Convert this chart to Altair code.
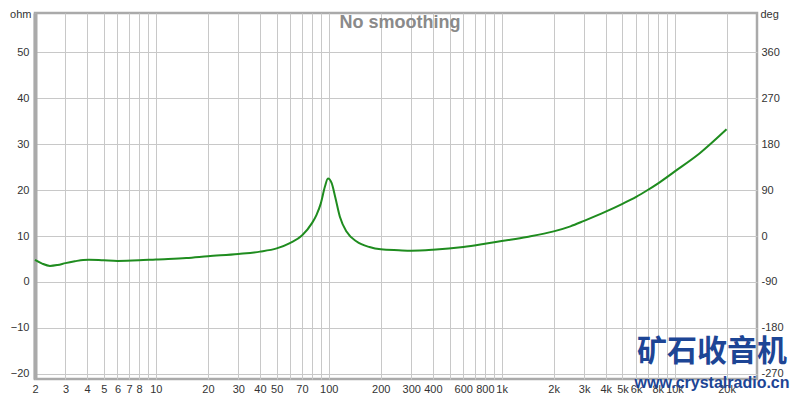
import altair as alt
import pandas as pd

freq = [2, 2.2, 2.44, 2.7, 3, 3.4, 3.8, 4.1, 5, 6, 8, 10, 15, 20, 30, 40, 50,
        60, 70, 80, 85, 90, 95, 99, 104, 109, 116, 127, 145, 172, 200, 254, 300,
        400, 600, 800, 1000, 1400, 2000, 2500, 3000, 4000, 5000, 6000, 7000,
        8000, 10000, 14000, 20000]
ohm = [4.8, 4.0, 3.5, 3.7, 4.1, 4.5, 4.8, 4.85, 4.7, 4.57, 4.7, 4.9, 5.2, 5.6,
       6.1, 6.6, 7.3, 8.5, 10.1, 12.8, 14.6, 17.1, 20.7, 22.5, 21.5, 18.5, 14.2,
       10.9, 8.8, 7.6, 7.1, 6.9, 6.8, 7.0, 7.6, 8.3, 8.9, 9.8, 11.0, 12.1, 13.3,
       15.3, 17.0, 18.5, 20.0, 21.4, 24.0, 28.0, 33.2]

grid_x = [2, 3, 4, 5, 6, 7, 8, 9, 10, 20, 30, 40, 50, 60, 70, 80, 90, 100,
          200, 300, 400, 500, 600, 700, 800, 900, 1000, 2000, 3000, 4000, 5000,
          6000, 7000, 8000, 9000, 10000, 20000]
labelled_x = [2, 3, 4, 5, 6, 7, 8, 10, 20, 30, 40, 50, 70, 100, 200, 300, 400,
              600, 800, 1000, 2000, 3000, 4000, 5000, 6000, 8000, 10000, 20000]
ohm_ticks = [-20, -10, 0, 10, 20, 30, 40, 50]

df = pd.DataFrame({"freq": freq, "ohm": ohm})

W, H = 722, 366
xscale = alt.Scale(type="log", domain=[2, 30000], nice=False)
yscale = alt.Scale(domain=[-21.1, 58.5], nice=False, zero=False)

lab_cond = " || ".join(f"datum.value == {v}" for v in labelled_x)
x_label_expr = (f"({lab_cond}) ? (datum.value >= 1000 ? (datum.value/1000) + 'k' : datum.value + '') : ''")

x_axis = alt.Axis(values=grid_x, labelExpr=x_label_expr, grid=True, gridColor="#c8c8c8",
                  gridWidth=1, ticks=False, domain=False, labelFontSize=11,
                  labelColor="#333333", labelFont="Liberation Sans", labelPadding=4,
                  title=None, labelFlush=False, labelOverlap=False)

left_axis = alt.Axis(values=ohm_ticks, grid=True, gridColor="#c8c8c8", gridWidth=1,
                     ticks=False, domain=True, domainColor="#aaaaaa", domainWidth=4,
                     labelFontSize=11, labelColor="#333333", labelFont="Liberation Sans",
                     labelPadding=6, title="ohm", titleAngle=0, titleFontWeight="normal",
                     titleFont="Liberation Sans", titleFontSize=11, titleColor="#333333",
                     titleX=-4, titleY=-5, titleAlign="right", titleBaseline="top")

right_axis = alt.Axis(values=ohm_ticks, orient="right", grid=False, ticks=False,
                      domain=False, labelFontSize=11, labelColor="#333333",
                      labelFont="Liberation Sans", labelPadding=4,
                      labelExpr="(datum.value - 10) * 9 + ''",
                      title="deg", titleAngle=0, titleFontWeight="normal",
                      titleFont="Liberation Sans", titleFontSize=11, titleColor="#333333",
                      titleX=3, titleY=-5, titleAlign="left", titleBaseline="top")

line = alt.Chart(df).mark_line(color="#1f8c1f", strokeWidth=2, interpolate="monotone").encode(
    x=alt.X("freq:Q", scale=xscale, axis=x_axis),
    y=alt.Y("ohm:Q", scale=yscale, axis=left_axis),
)

right = alt.Chart(df).mark_point(opacity=0).encode(
    x=alt.X("freq:Q", scale=xscale, axis=x_axis),
    y=alt.Y("ohm:Q", scale=yscale, axis=right_axis),
)

title = alt.Chart(pd.DataFrame({"t": ["No smoothing"]})).mark_text(
    fontSize=18, fontWeight="bold", color="#8a8a8a", font="Liberation Sans",
    baseline="middle", align="center").encode(
    text="t:N", x=alt.value(W / 2 + 4), y=alt.value(10))

wm = alt.Chart(pd.DataFrame({"t": ["矿石收音机"]})).mark_text(
    fontSize=30, fontWeight="bold", color="#1d4595", font="Noto Sans CJK SC",
    baseline="middle", align="center").encode(
    text="t:N", x=alt.value(677), y=alt.value(339))

wm2 = alt.Chart(pd.DataFrame({"t": ["www.crystalradio.cn"]})).mark_text(
    fontSize=16, fontWeight="bold", color="#1d4595", font="Liberation Sans",
    baseline="middle", align="center").encode(
    text="t:N", x=alt.value(677), y=alt.value(370))

chart = alt.layer(line, right, title, wm, wm2).resolve_axis(y="independent").properties(
    width=W, height=H,
    autosize=alt.AutoSizeParams(type="none"),
    padding={"left": 27, "top": 5, "right": 35, "bottom": 16},
    background="white",
).configure_view(stroke="#aaaaaa", strokeWidth=2.5)

chart.save("out.html", embed_options={"renderer": "svg", "actions": False})
